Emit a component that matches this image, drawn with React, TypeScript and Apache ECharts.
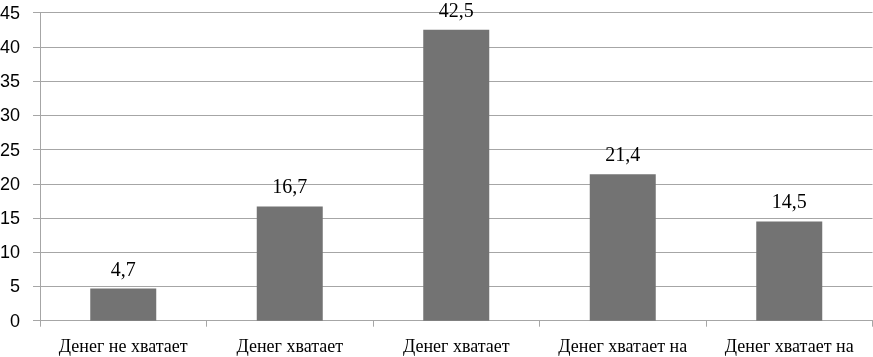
import React, { useEffect, useRef } from "react";
import * as echarts from "echarts";

const categories = [
  "Денег не хватает",
  "Денег хватает",
  "Денег хватает",
  "Денег хватает на",
  "Денег хватает на",
];
const values = [4.7, 16.7, 42.5, 21.4, 14.5];
const yTicks = { min: 0, max: 45, interval: 5 };

const SERIF = "serif";

export default function App() {
  const ref = useRef<HTMLDivElement>(null);
  useEffect(() => {
    const chart = echarts.init(ref.current!, null, { renderer: "svg" });
    chart.setOption({
      animation: false,
      grid: {
        left: 40,
        right: 0.5,
        top: 12.7,
        bottom: 36.3,
        outerBoundsMode: "none",
      },
      xAxis: {
        type: "category",
        data: categories,
        boundaryGap: true,
        axisLine: { show: true, lineStyle: { color: "#a6a6a6", width: 1 } },
        axisTick: { show: true, length: 6, lineStyle: { color: "#a6a6a6" } },
        axisLabel: {
          interval: 0,
          margin: 16,
          fontFamily: SERIF,
          fontSize: 18,
          color: "#000",
        },
      },
      yAxis: {
        type: "value",
        min: yTicks.min,
        max: yTicks.max,
        interval: yTicks.interval,
        axisLine: { show: true, lineStyle: { color: "#a6a6a6", width: 1 } },
        axisTick: { show: true, length: 7, lineStyle: { color: "#a6a6a6" } },
        splitLine: { show: true, lineStyle: { color: "#a6a6a6", width: 1 } },
        axisLabel: {
          margin: 20,
          fontFamily: "sans-serif",
          fontSize: 18,
          color: "#000",
        },
      },
      series: [
        {
          type: "bar",
          data: values,
          barWidth: 66,
          itemStyle: { color: "#737373" },
          label: {
            show: true,
            position: "top",
            distance: 10,
            fontFamily: SERIF,
            fontSize: 20,
            color: "#000",
            formatter: (p: any) => String(p.value).replace(".", ","),
          },
        },
      ],
    });
    return () => chart.dispose();
  }, []);
  return (
    <div
      ref={ref}
      style={{ position: "fixed", left: 0, top: 0, width: 873, height: 357 }}
    />
  );
}
